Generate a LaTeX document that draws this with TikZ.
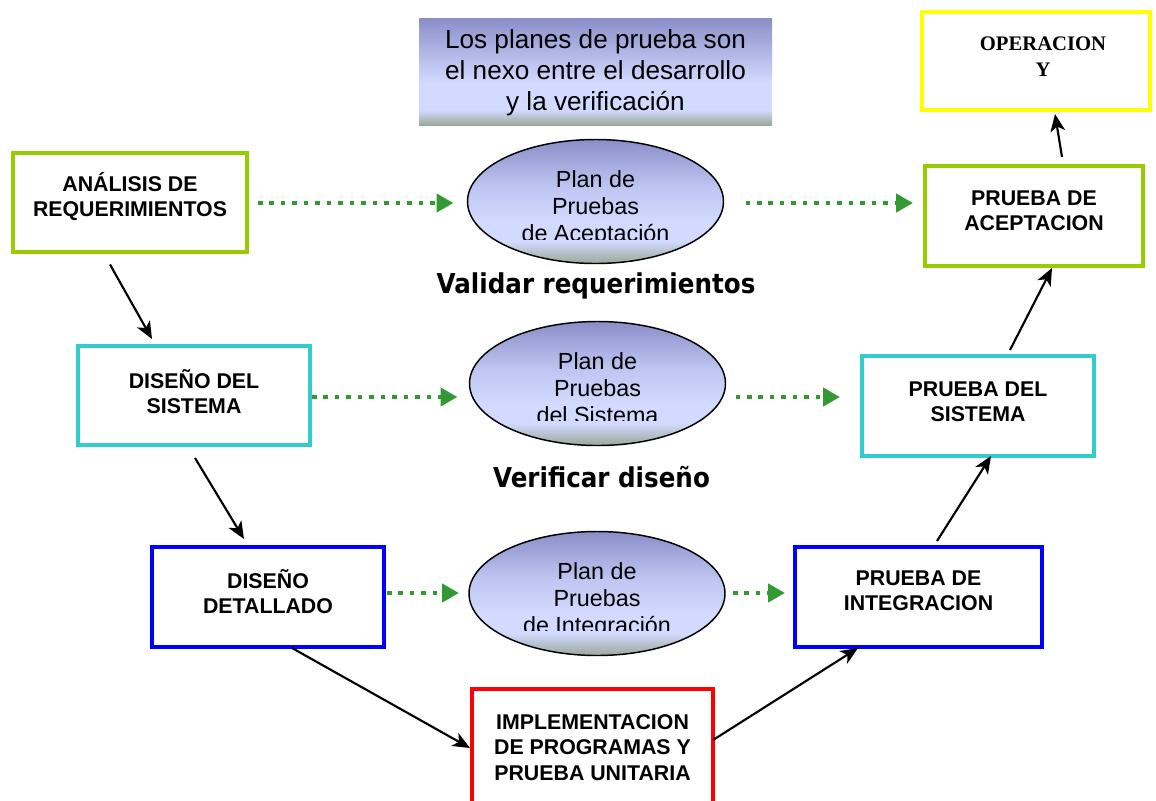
\documentclass[tikz,border=0pt]{standalone}
\usepackage{fontspec}
\usepackage{graphicx}
\setmainfont{Liberation Sans}
\newfontfamily\timesfam{Liberation Serif}
\newfontfamily\dejavu{DejaVu Sans}
\usetikzlibrary{shapes.geometric,arrows.meta,calc}

\definecolor{limeb}{HTML}{99CC00}
\definecolor{cyanb}{HTML}{33CCCC}
\definecolor{blueb}{HTML}{0000FF}
\definecolor{redb}{HTML}{FF0000}
\definecolor{yelb}{HTML}{FFFF00}
\definecolor{greenarr}{HTML}{339933}
\definecolor{topblue}{HTML}{8A8EC8}
\definecolor{midblue}{HTML}{BEC5F1}
\definecolor{lightblue}{HTML}{D2DAFF}
\definecolor{greygreen}{HTML}{9AA898}

\pgfdeclareverticalshading{ellsh}{100bp}{color(0bp)=(greygreen); color(25bp)=(greygreen); color(34bp)=(lightblue); color(42bp)=(lightblue); color(56bp)=(midblue); color(75bp)=(topblue); color(100bp)=(topblue)}
\pgfdeclareverticalshading{boxsh}{100bp}{color(0bp)=(greygreen); color(25bp)=(greygreen); color(32bp)=(lightblue); color(45bp)=(lightblue); color(75bp)=(topblue); color(100bp)=(topblue)}

\begin{document}
\begin{tikzpicture}[x=0.75pt,y=-0.75pt,
  box/.style={draw=#1, line width=2.3pt, inner sep=0pt, outer sep=0pt},
  btxt/.style={align=center, font=\bfseries\fontsize{16}{19}\selectfont, inner sep=0pt},
  optxt/.style={align=center, font=\timesfam\bfseries\fontsize{15.5}{20}\selectfont, inner sep=0pt},
  ellbody/.style={ellipse, shade, shading=ellsh, minimum width=192pt, minimum height=93pt, inner sep=0pt, outer sep=0pt},
  ellline/.style={ellipse, draw=black, line width=1.1pt, minimum width=192pt, minimum height=93pt, inner sep=0pt, outer sep=0pt},
  etxt/.style={align=center, font=\fontsize{17.5}{20}\selectfont, inner sep=0pt},
  heading/.style={anchor=base, font=\dejavu\bfseries\fontsize{20.5}{24}\selectfont, inner sep=0pt},
  blk/.style={line width=1.6pt, -{Stealth[length=13pt,width=11pt,inset=3.5pt]}},
  grn/.style={greenarr, line width=3.4pt, dash pattern=on 3.4pt off 5.2pt, -{Triangle[length=12.75pt,width=13.5pt]}}
]
\useasboundingbox (0,0) rectangle (1156,800);
\clip (0,0) rectangle (1156,800);

% top gradient box
\node[shade, shading=boxsh, minimum width=264.75pt, minimum height=80.25pt, inner sep=0pt] (tb) at (595.5,71.5) {};
\node[align=center, font=\fontsize{19.6}{23.25}\selectfont, inner sep=0pt] (tbt) at ($(tb)+(0,1.25)$) {Los planes de prueba son\\el nexo entre el desarrollo\\y la verificación};

% boxes
\node[box=yelb, minimum width=171pt, minimum height=73.5pt] (op) at (1036,61) {};
\node[optxt] (opt) at ($(op)+(7,-4.5)$) {OPERACION\\Y};

\node[box=limeb, minimum width=175.5pt, minimum height=74.25pt] (ana) at (130,202.5) {};
\node[btxt] (anat) at ($(ana)+(0,-6)$) {ANÁLISIS DE\\REQUERIMIENTOS};

\node[box=limeb, minimum width=163.5pt, minimum height=75pt] (acep) at (1034,216) {};
\node[btxt] (acept) at ($(acep)+(0,-5)$) {PRUEBA DE\\ACEPTACION};

\node[box=cyanb, minimum width=174pt, minimum height=74.25pt] (sis) at (194,395.5) {};
\node[btxt] (sist) at ($(sis)+(0,-4)$) {DISEÑO DEL\\SISTEMA};

\node[box=cyanb, minimum width=174pt, minimum height=75pt] (psis) at (978,406) {};
\node[btxt] (psist) at ($(psis)+(0,-4.5)$) {PRUEBA DEL\\SISTEMA};

\node[box=blueb, minimum width=174pt, minimum height=75pt] (det) at (268,597) {};
\node[btxt] (dett) at ($(det)+(0,-5.5)$) {DISEÑO\\DETALLADO};

\node[box=blueb, minimum width=185.25pt, minimum height=75pt] (int) at (918.5,597) {};
\node[btxt] (intt) at ($(int)+(0,-6)$) {PRUEBA DE\\INTEGRACION};

\node[box=redb, minimum width=180.75pt, minimum height=92.25pt] (impl) at (592.5,750.5) {};
\node[btxt] (implt) at ($(impl)+(0,-3)$) {IMPLEMENTACION\\DE PROGRAMAS Y\\PRUEBA UNITARIA};

% ellipses
\node[ellbody] (e1) at (595.5,201.5) {};
\begin{scope}
  \clip ($(e1.north)+(-140,-5)$) rectangle ($(e1.center)+(140,38)$);
  \node[etxt] (e1t) at ($(e1)+(0,7)$) {Plan de\\Pruebas\\de Aceptación};
\end{scope}
\node[ellline] at (e1) {};

\node[ellbody] (e2) at (597.5,383.5) {};
\begin{scope}
  \clip ($(e2.north)+(-140,-5)$) rectangle ($(e2.center)+(140,37)$);
  \node[etxt] (e2t) at ($(e2)+(0,7)$) {Plan de\\Pruebas\\del Sistema\vphantom{p}};
\end{scope}
\node[ellline] at (e2) {};

\node[ellbody] (e3) at (597,593.5) {};
\begin{scope}
  \clip ($(e3.north)+(-140,-5)$) rectangle ($(e3.center)+(140,37)$);
  \node[etxt] (e3t) at ($(e3)+(0,7)$) {Plan de\\Pruebas\\de Integración};
\end{scope}
\node[ellline] at (e3) {};

% headings
\node[heading] (val) at (596,293) {\scalebox{0.9}[1]{Validar requerimientos}};
\node[heading] (ver) at (601.5,487) {\scalebox{0.9}[1]{Verificar diseño}};

% black arrows
\draw[blk] ($(ana.south)+(-20,12.5)$) -- ($(sis.north)+(-42,-7)$);
\draw[blk] ($(sis.south)+(1,13)$) -- ($(det.north)+(-24,-8)$);
\draw[blk] ($(det.south)+(24,1)$) -- ($(impl.west)+(-2,-2.5)$);
\draw[blk] ($(impl.east)+(0,-10.5)$) -- ($(int.south)+(-60.5,1)$);
\draw[blk] ($(int.north)+(18.5,-6)$) -- ($(psis.south)+(13,0)$);
\draw[blk] ($(psis.north)+(32,-6)$) -- ($(acep.south)+(18,2)$);
\draw[blk] ($(acep.north)+(28,-9)$) -- ($(op.south)+(19,4)$);

% green dotted arrows
\draw[grn] ($(ana.east)+(11,0.5)$) -- ($(e1.west |- ana.east)+(-14,0.5)$);
\draw[grn] ($(e1.east |- ana.east)+(22,0.5)$) -- ($(acep.west |- ana.east)+(-12,0.5)$);
\draw[grn] ($(sis.east)+(2,1.5)$) -- ($(e2.west |- sis.east)+(-12,1.5)$);
\draw[grn] ($(e2.east |- sis.east)+(10,1.5)$) -- ($(psis.west |- sis.east)+(-22,1.5)$);
\draw[grn] ($(det.east |- e3.center)+(3,-0.5)$) -- ($(e3.west)+(-10,-0.5)$);
\draw[grn] ($(e3.east)+(8,-0.5)$) -- ($(int.west |- e3.center)+(-10,-0.5)$);
\end{tikzpicture}
\end{document}
